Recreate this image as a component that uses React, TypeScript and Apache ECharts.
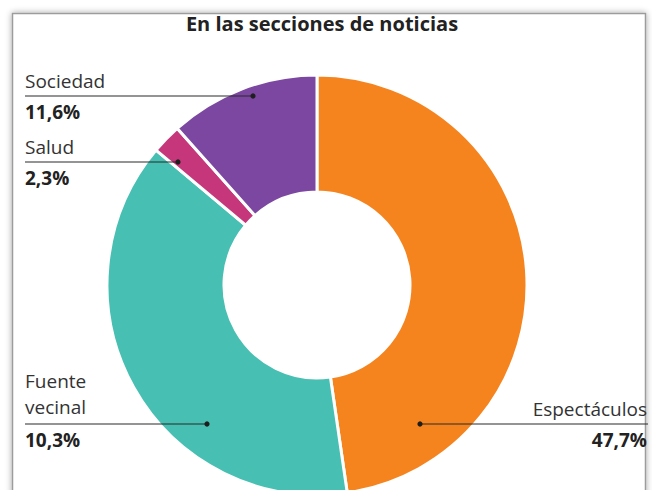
import React, { useEffect, useRef } from "react";
import * as echarts from "echarts";

const categories = ["Espectáculos", "Fuente vecinal", "Salud", "Sociedad"];
// slice sizes as drawn (share of the ring)
const sliceValues = [47.7, 38.4, 2.3, 11.6];
// percentage texts as printed on the chart
const percentLabels = ["47,7%", "10,3%", "2,3%", "11,6%"];
const nameLabels = ["Espectáculos", "Fuente\nvecinal", "Salud", "Sociedad"];
const colors = ["#F5841F", "#47BFB2", "#C5377A", "#7C47A0"];

const TITLE = "En las secciones de noticias";

// layout: label leader lines (dot x, line y, edge x, side)
const leaders = [
  { dotX: 420, lineY: 424, edgeX: 648, side: "right" },
  { dotX: 207, lineY: 424, edgeX: 25, side: "left" },
  { dotX: 178, lineY: 162, edgeX: 25, side: "left" },
  { dotX: 253, lineY: 96, edgeX: 25, side: "left" },
];

const FONT = "'Open Sans', 'Noto Sans', sans-serif";
const LH = 23;
const LH_MULTI = 26;
const GAP = 8;

export default function App() {
  const ref = useRef<HTMLDivElement>(null);
  useEffect(() => {
    if (!ref.current) return;
    const chart = echarts.init(ref.current, undefined, { renderer: "svg" });
    const data = categories.map((c, i) => ({
      name: c,
      value: sliceValues[i],
      itemStyle: { color: colors[i] },
    }));
    chart.setOption({
      animation: false,
      backgroundColor: "#ffffff",
      title: {
        text: TITLE,
        left: 317,
        textAlign: "center",
        top: 8,
        textStyle: {
          fontFamily: FONT,
          fontSize: 20,
          fontWeight: "bold",
          color: "#222222",
        },
      },
      graphic: [
        {
          type: "rect",
          z: 0,
          shape: { x: 12.5, y: 13.5, width: 633, height: 500 },
          style: {
            fill: "#ffffff",
            stroke: "#9c9c9c",
            lineWidth: 1.5,
            shadowBlur: 6,
            shadowColor: "rgba(0,0,0,0.35)",
          },
        },
        ...leaders.map((l) => ({
          type: "line",
          z: 100,
          shape: { x1: l.dotX, y1: l.lineY, x2: l.edgeX, y2: l.lineY },
          style: { stroke: "#2a2a2a", lineWidth: 1.2 },
        })),
        ...leaders.map((l) => ({
          type: "circle",
          z: 101,
          shape: { cx: l.dotX, cy: l.lineY, r: 2.6 },
          style: { fill: "#1e1e1e" },
        })),
      ],
      series: [
        {
          type: "pie",
          center: [317, 285],
          radius: [93, 210],
          startAngle: 90,
          clockwise: true,
          avoidLabelOverlap: false,
          data,
          itemStyle: { borderColor: "#ffffff", borderWidth: 3 },
          emphasis: { disabled: true },
          label: {
            show: true,
            position: "outer",
            alignTo: "none",
            fontFamily: FONT,
            formatter: (p: any) => {
              const i = p.dataIndex;
              const parts = nameLabels[i].split("\n");
              const tag = parts.length > 1 ? "m" : "n";
              const names = parts.map((s) => `{${tag}|${s}}`).join("\n");
              return `${names}\n{s|}\n{p|${percentLabels[i]}}`;
            },
            rich: {
              n: {
                fontFamily: FONT,
                fontSize: 19,
                color: "#333333",
                lineHeight: LH,
              },
              m: {
                fontFamily: FONT,
                fontSize: 19,
                color: "#333333",
                lineHeight: LH_MULTI,
              },
              s: { lineHeight: GAP, height: GAP, fontSize: 1 },
              p: {
                fontFamily: FONT,
                fontSize: 19,
                fontWeight: "bold",
                color: "#222222",
                lineHeight: LH,
              },
            },
          },
          labelLine: { show: false },
          labelLayout: (params: any) => {
            const i = params.dataIndex;
            const l = leaders[i];
            const nLines = nameLabels[i].split("\n").length;
            const nameH = nLines > 1 ? nLines * LH_MULTI : LH;
            const top = l.lineY - (nameH + GAP / 2);
            return {
              x: l.side === "left" ? l.edgeX : l.edgeX - 1,
              y: top,
              align: l.side === "left" ? "left" : "right",
              verticalAlign: "top",
            };
          },
        },
      ],
    });
    return () => chart.dispose();
  }, []);
  return (
    <div
      ref={ref}
      style={{ position: "absolute", left: 0, top: 0, width: 652, height: 490 }}
    />
  );
}
